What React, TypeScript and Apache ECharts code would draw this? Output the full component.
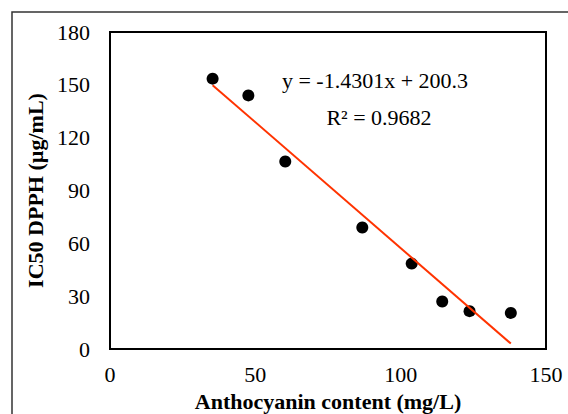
import React, { useEffect, useRef } from "react";
import * as echarts from "echarts";

const anthocyanin = [35.3, 47.6, 60.3, 86.8, 103.8, 114.3, 123.7, 137.9];
const ic50 = [153.5, 144.0, 106.5, 69.0, 48.5, 27.0, 21.5, 20.5];
const slope = -1.4301;
const intercept = 200.3;
const rSquared = 0.9682;
const xTicks = [0, 50, 100, 150];
const yTicks = [0, 30, 60, 90, 120, 150, 180];

const FONT = '"Liberation Serif", "Times New Roman", serif';

export default function App() {
  const ref = useRef<HTMLDivElement>(null);
  useEffect(() => {
    if (!ref.current) return;
    const chart = echarts.init(ref.current, undefined, { renderer: "svg" });
    const xMin = Math.min(...anthocyanin);
    const xMax = Math.max(...anthocyanin);
    const trend = [
      [xMin, slope * xMin + intercept],
      [xMax, slope * xMax + intercept],
    ];
    chart.setOption({
      animation: false,
      backgroundColor: "#ffffff",
      textStyle: { fontFamily: FONT },
      grid: {
        left: 110,
        right: 22,
        top: 32,
        bottom: 65,
        containLabel: false,
        outerBoundsMode: "none",
        show: true,
        borderColor: "#000000",
        borderWidth: 2,
        backgroundColor: "#ffffff",
      },
      xAxis: {
        type: "value",
        min: xTicks[0],
        max: xTicks[xTicks.length - 1],
        interval: 50,
        name: "Anthocyanin content (mg/L)",
        nameLocation: "middle",
        nameGap: 41,
        nameTextStyle: { fontFamily: FONT, fontSize: 22, fontWeight: "bold", color: "#000" },
        axisLine: { show: false },
        axisTick: { show: false },
        splitLine: { show: false },
        axisLabel: { fontFamily: FONT, fontSize: 22, color: "#000", margin: 14 },
      },
      yAxis: {
        type: "value",
        min: yTicks[0],
        max: yTicks[yTicks.length - 1],
        interval: 30,
        name: "IC50 DPPH (µg/mL)",
        nameLocation: "middle",
        nameRotate: 90,
        nameGap: 59,
        nameTextStyle: { fontFamily: FONT, fontSize: 22, fontWeight: "bold", color: "#000" },
        axisLine: { show: false },
        axisTick: { show: false },
        splitLine: { show: false },
        axisLabel: { fontFamily: FONT, fontSize: 22, color: "#000", margin: 20 },
      },
      graphic: [
        {
          type: "rect",
          shape: { x: 12, y: 12, width: 700, height: 500 },
          style: { fill: "none", stroke: "#333333", lineWidth: 1.5 },
          silent: true,
          z: -1,
        },
        {
          type: "text",
          x: 375,
          y: 80,
          style: {
            text: `y = ${slope}x + ${intercept}`,
            fontFamily: FONT,
            fontSize: 22,
            fill: "#000",
            textAlign: "center",
            textVerticalAlign: "middle",
          },
          z: 100,
        },
        {
          type: "text",
          x: 379,
          y: 117,
          style: {
            text: `R² = ${rSquared}`,
            fontFamily: FONT,
            fontSize: 22,
            fill: "#000",
            textAlign: "center",
            textVerticalAlign: "middle",
          },
          z: 100,
        },
      ],
      series: [
        {
          type: "scatter",
          data: anthocyanin.map((x, i) => [x, ic50[i]]),
          symbol: "circle",
          symbolSize: 12,
          itemStyle: { color: "#000000", opacity: 1 },
          z: 3,
        },
        {
          type: "line",
          data: trend,
          showSymbol: false,
          symbol: "none",
          lineStyle: { color: "#ff3300", width: 2 },
          z: 4,
        },
      ],
    });
    return () => chart.dispose();
  }, []);
  return (
    <div
      ref={ref}
      style={{ position: "absolute", left: 0, top: 0, width: 568, height: 414 }}
    />
  );
}
